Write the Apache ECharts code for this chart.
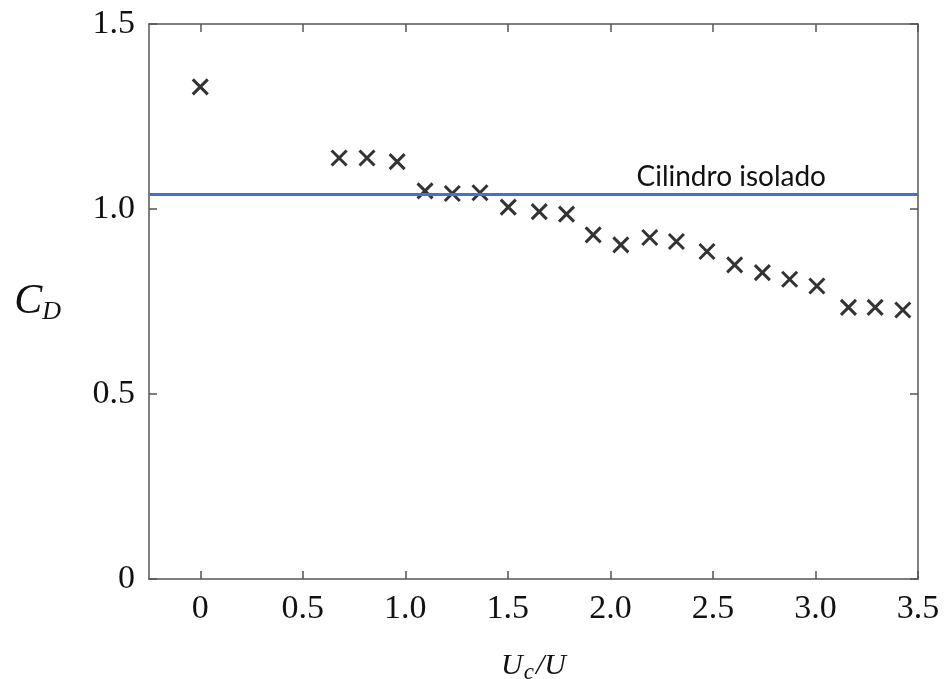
<!DOCTYPE html>
<html>
<head>
<meta charset="utf-8">
<script src="https://cdn.jsdelivr.net/npm/echarts@6/dist/echarts.min.js"></script>
<style>html,body{margin:0;padding:0;background:#fff;}#c{width:944px;height:679px;}</style>
</head>
<body>
<div id="c"></div>
<script>
const ucU = [0, 0.677, 0.813, 0.96, 1.096, 1.229, 1.364, 1.502, 1.653, 1.786, 1.916, 2.051, 2.192, 2.322, 2.471, 2.606, 2.741, 2.874, 3.007, 3.161, 3.291, 3.426];
const cd = [1.330, 1.138, 1.138, 1.128, 1.049, 1.042, 1.044, 1.005, 0.993, 0.986, 0.930, 0.903, 0.923, 0.912, 0.885, 0.849, 0.828, 0.810, 0.792, 0.734, 0.734, 0.727];
const isolatedCd = 1.042;
const isolatedLabel = 'Cilindro isolado';
const xTicks = [0, 0.5, 1.0, 1.5, 2.0, 2.5, 3.0, 3.5];
const yTicks = [0, 0.5, 1.0, 1.5];

const axisColor = '#555';
const serif = '"Liberation Serif", "DejaVu Serif", serif';
const fmt = v => (v === 0 ? '0' : v.toFixed(1));

const chart = echarts.init(document.getElementById('c'), null, {renderer: 'canvas'});
const xBase = {
  type: 'value', min: -0.25, max: 3.5,
  axisLine: {show: true, onZero: false, lineStyle: {color: axisColor, width: 1.5}},
  axisTick: {show: true, inside: true, length: 8, customValues: xTicks, lineStyle: {color: axisColor, width: 1.5}},
  splitLine: {show: false}
};
const yBase = {
  type: 'value', min: 0, max: 1.5, interval: 0.5,
  axisLine: {show: true, onZero: false, lineStyle: {color: axisColor, width: 1.5}},
  axisTick: {show: true, inside: true, length: 8, lineStyle: {color: axisColor, width: 1.5}},
  splitLine: {show: false}
};
chart.setOption({
  animation: false,
  backgroundColor: '#fff',
  grid: {left: 149, top: 24, right: 26, bottom: 100, containLabel: false, outerBoundsMode: 'none'},
  xAxis: [
    Object.assign({}, xBase, {
      position: 'bottom',
      axisLabel: {show: true, customValues: xTicks, formatter: fmt, margin: 13, color: '#111', fontFamily: serif, fontSize: 34},
      name: '{u|U}{c|c}{u|/U}',
      nameLocation: 'middle', nameGap: 70,
      nameTextStyle: {
        rich: {
          u: {fontFamily: serif, fontStyle: 'italic', fontSize: 30, color: '#111'},
          c: {fontFamily: serif, fontStyle: 'italic', fontSize: 23, color: '#111', padding: [12, 2, 0, 1]}
        }
      }
    }),
    Object.assign({}, xBase, {position: 'top', axisLabel: {show: false}})
  ],
  yAxis: [
    Object.assign({}, yBase, {
      position: 'left',
      axisLabel: {show: true, formatter: fmt, margin: 14, color: '#111', fontFamily: serif, fontSize: 34},
      name: '{c|C}{d|D}',
      nameLocation: 'middle', nameGap: 88, nameRotate: 0,
      nameTextStyle: {
        rich: {
          c: {fontFamily: serif, fontStyle: 'italic', fontSize: 42, color: '#111'},
          d: {fontFamily: serif, fontStyle: 'italic', fontSize: 26, color: '#111', padding: [22, 0, 0, 0]}
        }
      }
    }),
    Object.assign({}, yBase, {position: 'right', axisLabel: {show: false}})
  ],
  series: [
    {
      type: 'scatter',
      data: ucU.map((x, i) => [x, cd[i]]),
      symbol: 'path://M0,0L10,10M10,0L0,10',
      symbolSize: 15,
      itemStyle: {color: 'rgba(0,0,0,0)', borderColor: '#000', borderWidth: 3},
      z: 3,
      markLine: {
        silent: true,
        symbol: ['none', 'none'],
        lineStyle: {color: '#4472C4', width: 3, type: 'solid'},
        label: {
          show: true, position: 'insideEndTop', formatter: isolatedLabel,
          fontFamily: 'Lato, "Open Sans", sans-serif', fontSize: 28, color: '#111',
          padding: [0, 89, 0, 0], distance: 3
        },
        data: [{yAxis: isolatedCd}]
      }
    }
  ]
});
</script>
</body>
</html>
